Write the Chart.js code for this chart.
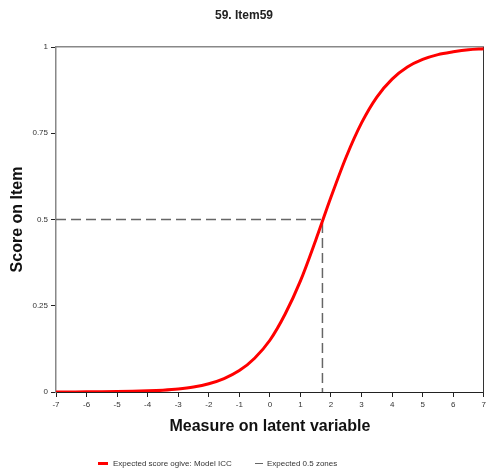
<!DOCTYPE html>
<html lang="en">
  <head>
    <meta charset="UTF-8" />
    <title>59. Item59</title>
    <style>
      html, body { margin: 0; padding: 0; background: #fff; }
      #wrap { width: 489px; height: 471px; position: relative; }
    </style>
  </head>
  <body>
    <div id="wrap"><canvas id="icc"></canvas></div>

    <script src="https://cdn.jsdelivr.net/npm/chart.js"></script>
    <script>
      // values
      const measure = [-7, -6.5, -6, -5.5, -5, -4.5, -4, -3.5, -3, -2.5, -2, -1.5, -1, -0.5,
                       0, 0.5, 1, 1.5, 2, 2.5, 3, 3.5, 4, 4.5, 5, 5.5, 6, 6.5, 7];
      const expectedScore = [0.0002, 0.0003, 0.0004, 0.0007, 0.0012, 0.002, 0.0033, 0.0054, 0.0088, 0.0145,
                             0.024, 0.039, 0.062, 0.098, 0.15, 0.226, 0.322, 0.44, 0.565, 0.682,
                             0.78, 0.855, 0.907, 0.942, 0.964, 0.978, 0.986, 0.992, 0.995];
      const zoneX = [-7, 1.72, 1.72];
      const zoneY = [0.5, 0.5, 0];
      const xTicks = { min: -7, max: 7, step: 1 };
      const yTickValues = [0, 0.25, 0.5, 0.75, 1];
      const yTickLabels = ['0', '0.25', '0.5', '0.75', '1'];

      const legendItems = ['Expected score ogive: Model ICC', 'Expected 0.5 zones'];

      const FONT = "'Liberation Sans', Arial, sans-serif";

      const bottomLegend = {
        id: 'bottomLegend',
        afterDraw(chart) {
          const ctx = chart.ctx;
          const ds = chart.data.datasets;
          const spots = [[98, 108, 113], [255, 263, 267]];
          ctx.save();
          ctx.font = '8px ' + FONT;
          ctx.textBaseline = 'middle';
          ctx.fillStyle = '#333';
          spots.forEach((s, i) => {
            ctx.strokeStyle = ds[i].borderColor;
            ctx.lineWidth = i === 0 ? 3 : 1;
            ctx.beginPath();
            ctx.moveTo(s[0], 463.5);
            ctx.lineTo(s[1], 463.5);
            ctx.stroke();
            ctx.fillText(legendItems[i], s[2], 463.5);
          });
          ctx.restore();
        }
      };

      new Chart(document.getElementById('icc'), {
        type: 'line',
        data: {
          datasets: [
            {
              label: legendItems[0],
              data: measure.map((m, i) => ({ x: m, y: expectedScore[i] })),
              borderColor: '#ff0000',
              borderWidth: 3,
              pointRadius: 0,
              cubicInterpolationMode: 'monotone',
              fill: false
            },
            {
              label: legendItems[1],
              data: zoneX.map((m, i) => ({ x: m, y: zoneY[i] })),
              borderColor: '#666',
              borderWidth: 1.5,
              borderDash: [10, 5],
              pointRadius: 0,
              tension: 0,
              fill: false
            }
          ]
        },
        options: {
          responsive: true,
          maintainAspectRatio: false,
          animation: false,
          layout: { padding: { left: 0, right: 1, top: 0, bottom: 0 } },
          plugins: {
            legend: { display: false },
            tooltip: { enabled: false },
            title: {
              display: true,
              text: '59. Item59',
              color: '#222',
              font: { family: FONT, size: 12, weight: 'bold', lineHeight: 1.2 },
              padding: { top: 8, bottom: 24.6 }
            }
          },
          scales: {
            x: {
              type: 'linear',
              position: 'bottom',
              min: xTicks.min,
              max: xTicks.max,
              afterFit: (s) => { s.height = 79; },
              border: { display: true, color: '#222', width: 1 },
              grid: { drawOnChartArea: false, drawTicks: true, tickLength: 5, color: '#222' },
              ticks: {
                stepSize: xTicks.step,
                padding: 3,
                color: '#333',
                font: { family: FONT, size: 8 },
                maxRotation: 0
              },
              title: {
                display: true,
                text: 'Measure on latent variable',
                color: '#111',
                font: { family: FONT, size: 16, weight: 'bold', lineHeight: 1.2 },
                padding: { top: 0, bottom: 34.4 }
              }
            },
            y: {
              type: 'linear',
              position: 'left',
              min: yTickValues[0],
              max: yTickValues[yTickValues.length - 1],
              afterFit: (s) => { s.width = 56; },
              afterBuildTicks: (s) => { s.ticks = yTickValues.map(v => ({ value: v })); },
              border: { display: true, color: '#888', width: 1.5 },
              grid: { drawOnChartArea: false, drawTicks: true, tickLength: 5, color: '#222' },
              ticks: {
                padding: 3,
                color: '#333',
                font: { family: FONT, size: 8 },
                callback: (v) => yTickLabels[yTickValues.indexOf(v)]
              },
              title: {
                display: true,
                text: 'Score on Item',
                color: '#111',
                font: { family: FONT, size: 16, weight: 'bold', lineHeight: 1.2 },
                padding: { top: 8, bottom: 0 }
              }
            },
            x2: {
              type: 'linear',
              position: 'top',
              min: xTicks.min,
              max: xTicks.max,
              afterFit: (s) => { s.height = 0; },
              border: { display: true, color: '#888', width: 1.5 },
              grid: { display: false },
              ticks: { display: false }
            },
            y2: {
              type: 'linear',
              position: 'right',
              min: 0,
              max: 1,
              afterFit: (s) => { s.width = 0; },
              border: { display: true, color: '#333', width: 1 },
              grid: { display: false },
              ticks: { display: false }
            }
          }
        },
        plugins: [bottomLegend]
      });
    </script>
  </body>
</html>
